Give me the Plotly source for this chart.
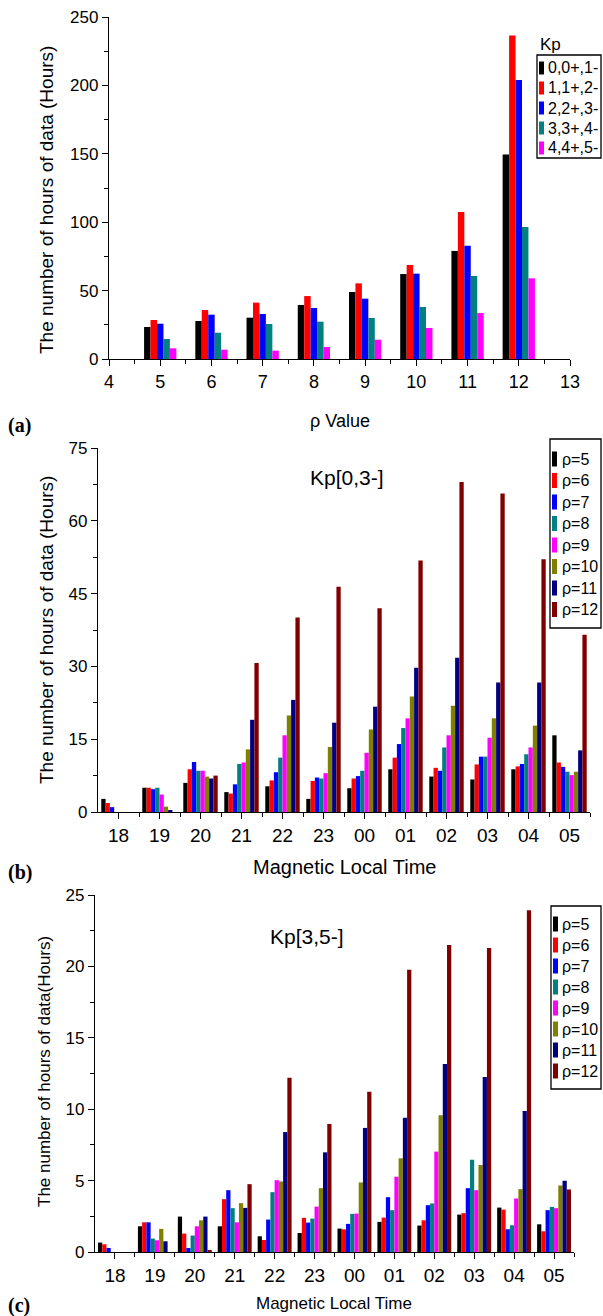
import plotly.graph_objects as go

W, H = 603, 1316

# ---------------- data ----------------
RHO = [5, 6, 7, 8, 9, 10, 11, 12]
KP_NAMES = ["0,0+,1-", "1,1+,2-", "2,2+,3-", "3,3+,4-", "4,4+,5-"]
KP_COLORS = ["#000000", "#FF0000", "#0000FF", "#008080", "#FF00FF"]
A_KP0 = [23.4, 27.8, 30.2, 39.5, 49.0, 62.1, 79.0, 149.4]
A_KP1 = [28.5, 35.8, 41.2, 46.0, 55.3, 68.7, 107.5, 236.4]
A_KP2 = [25.8, 32.4, 32.9, 37.3, 44.1, 62.4, 82.8, 204.0]
A_KP3 = [14.6, 19.2, 25.6, 27.3, 30.0, 38.0, 60.7, 96.5]
A_KP4 = [7.8, 6.8, 6.1, 8.8, 14.1, 22.7, 33.6, 59.0]

MLT = ["18", "19", "20", "21", "22", "23", "00", "01", "02", "03", "04", "05"]
RHO_NAMES = ["ρ=5", "ρ=6", "ρ=7", "ρ=8", "ρ=9", "ρ=10", "ρ=11", "ρ=12"]
RHO_COLORS = ["#000000", "#FF0000", "#0000FF", "#008080", "#FF00FF",
              "#808000", "#000080", "#800000"]

B_R5 = [2.7, 5.0, 6.0, 4.1, 5.3, 2.7, 4.9, 8.8, 7.3, 6.7, 8.8, 15.8]
B_R6 = [1.85, 5.0, 8.8, 3.8, 6.5, 6.4, 6.9, 11.2, 9.1, 9.8, 9.4, 10.2]
B_R7 = [1.0, 4.7, 10.3, 5.7, 8.2, 7.1, 7.4, 14.0, 8.5, 11.4, 9.9, 9.3]
B_R8 = [0, 5.0, 8.5, 9.9, 11.2, 6.9, 8.5, 17.3, 13.3, 11.4, 11.9, 8.3]
B_R9 = [0, 3.6, 8.5, 10.2, 15.8, 8.0, 12.2, 19.3, 15.8, 15.3, 13.3, 7.6]
B_R10 = [0, 1.1, 7.3, 12.9, 19.9, 13.4, 17.0, 23.8, 21.9, 19.3, 17.8, 8.3]
B_R11 = [0, 0.3, 6.9, 19.0, 23.1, 18.4, 21.7, 29.7, 31.8, 26.7, 26.7, 12.7]
B_R12 = [0, 0, 7.5, 30.7, 40.1, 46.4, 42.0, 51.8, 68.0, 65.6, 52.1, 36.5]

C_R5 = [0.66, 1.8, 2.48, 1.8, 1.1, 1.33, 1.64, 2.11, 1.85, 2.62, 3.11, 1.94]
C_R6 = [0.54, 2.08, 1.29, 3.7, 0.84, 2.39, 1.59, 2.41, 2.22, 2.72, 2.97, 1.45]
C_R7 = [0.28, 2.08, 0.28, 4.33, 2.27, 2.06, 1.97, 3.84, 3.28, 4.47, 1.59, 2.93]
C_R8 = [0, 0.94, 1.15, 3.07, 4.19, 2.34, 2.67, 2.93, 3.4, 6.46, 1.87, 3.16]
C_R9 = [0, 0.82, 1.8, 2.08, 5.03, 3.18, 2.69, 5.27, 7.03, 4.33, 3.75, 3.07]
C_R10 = [0, 1.62, 2.22, 3.42, 4.94, 4.47, 4.87, 6.56, 9.58, 6.09, 4.4, 4.66]
C_R11 = [0, 0.75, 2.48, 3.09, 8.4, 6.98, 8.69, 9.41, 13.16, 12.25, 9.88, 4.99]
C_R12 = [0, 0, 0.1, 4.75, 12.2, 8.97, 11.22, 19.77, 21.5, 21.29, 23.93, 4.38]

A_SERIES = [A_KP0, A_KP1, A_KP2, A_KP3, A_KP4]
B_SERIES = [B_R5, B_R6, B_R7, B_R8, B_R9, B_R10, B_R11, B_R12]
C_SERIES = [C_R5, C_R6, C_R7, C_R8, C_R9, C_R10, C_R11, C_R12]

# ---------------- helpers ----------------
def fx(px):
    return px / W

def fy(py):
    return 1 - py / H

FONT = "Arial, Liberation Sans, sans-serif"
SERIF = "Times New Roman, Liberation Serif, serif"

fig = go.Figure()

def add_group(series, names, colors, xvals, xa, ya, group_w):
    n = len(series)
    bw = group_w / n
    for i, (vals, nm, col) in enumerate(zip(series, names, colors)):
        fig.add_trace(go.Bar(
            x=xvals, y=vals, name=nm, xaxis=xa, yaxis=ya,
            marker=dict(color=col, line=dict(width=0)),
            width=bw, offset=-group_w / 2 + i * bw,
            showlegend=False,
        ))

mlt_idx = list(range(len(MLT)))
add_group(A_SERIES, KP_NAMES, KP_COLORS, RHO, "x", "y", 0.63)
add_group(B_SERIES, RHO_NAMES, RHO_COLORS, mlt_idx, "x2", "y2", 0.84)
add_group(C_SERIES, RHO_NAMES, RHO_COLORS, mlt_idx, "x3", "y3", 0.85)

axis_common = dict(showline=True, linecolor="black", linewidth=1.3,
                   ticks="outside", ticklen=6, tickwidth=1.3, tickcolor="black",
                   showgrid=False, zeroline=False,
                   tickfont=dict(family=FONT, size=17, color="black"))

def minor(**kw):
    return dict(ticks="outside", ticklen=4, tickwidth=1.3, tickcolor="black", **kw)

fig.update_layout(
    xaxis=dict(**{**axis_common, "tickfont": dict(family=FONT, size=18, color="black")},
               domain=[fx(109), fx(570)], anchor="y", range=[4, 13],
               tickmode="linear", tick0=4, dtick=1,
               minor=minor(dtick=0.5, tick0=4)),
    yaxis=dict(**axis_common, domain=[fy(359), fy(17)], anchor="x", range=[0, 250],
               tickmode="linear", tick0=0, dtick=50, minor=minor(dtick=25)),
    xaxis2=dict(**{**axis_common, "tickfont": dict(family=FONT, size=19, color="black")},
                domain=[fx(98), fx(590)], anchor="y2", range=[-0.5, len(MLT) - 0.5],
                tickmode="array", tickvals=mlt_idx, ticktext=MLT,
                minor=minor(tickmode="array", tickvals=[i + 0.5 for i in mlt_idx])),
    yaxis2=dict(**axis_common, domain=[fy(812), fy(448)], anchor="x2", range=[0, 75],
                tickmode="linear", tick0=0, dtick=15, minor=minor(dtick=7.5)),
    xaxis3=dict(**{**axis_common, "tickfont": dict(family=FONT, size=19, color="black")},
                domain=[fx(95), fx(574)], anchor="y3", range=[-0.5, len(MLT) - 0.5],
                tickmode="array", tickvals=mlt_idx, ticktext=MLT,
                minor=minor(tickmode="array", tickvals=[i + 0.5 for i in mlt_idx])),
    yaxis3=dict(**axis_common, domain=[fy(1252), fy(895)], anchor="x3", range=[0, 25],
                tickmode="linear", tick0=0, dtick=5, minor=minor(dtick=2.5)),
)

annotations = []
shapes = []

def text(px, py, s, size, xanchor="center", angle=0, family=FONT, bold=False):
    if bold:
        s = "<b>" + s + "</b>"
    annotations.append(dict(x=fx(px), y=fy(py), xref="paper", yref="paper",
                            text=s, showarrow=False, xanchor=xanchor, yanchor="middle",
                            textangle=angle, font=dict(family=family, size=size, color="black")))

# axis titles
text(47, 200, "The number of hours of data (Hours)", 19, angle=-90)
text(340, 421, "ρ Value", 18)
text(46, 630, "The number of hours of data (Hours)", 19, angle=-90)
text(344, 867, "Magnetic Local Time", 20)
text(44, 1072, "The number of hours of data(Hours)", 17, angle=-90)
text(334, 1303, "Magnetic Local Time", 17)

# panel labels
text(6, 425, "(a)", 20, xanchor="left", family=SERIF, bold=True)
text(6, 872, "(b)", 20, xanchor="left", family=SERIF, bold=True)
text(6, 1305, "(c)", 20, xanchor="left", family=SERIF, bold=True)

# inner titles
text(347, 477, "Kp[0,3-]", 21)
text(307, 937, "Kp[3,5-]", 21)

# custom legends
def legend(names, colors, box, first_y, step, sw_x, txt_x, sw_h, size):
    x0, y0, x1, y1 = box
    shapes.append(dict(type="rect", xref="paper", yref="paper",
                       x0=fx(x0), x1=fx(x1), y0=fy(y1), y1=fy(y0),
                       line=dict(color="black", width=1.3), fillcolor="white"))
    for i, (nm, col) in enumerate(zip(names, colors)):
        cy = first_y + i * step
        shapes.append(dict(type="rect", xref="paper", yref="paper",
                           x0=fx(sw_x), x1=fx(sw_x + 5), y0=fy(cy + sw_h / 2), y1=fy(cy - sw_h / 2),
                           line=dict(width=0), fillcolor=col))
        text(txt_x, cy, nm, size, xanchor="left")

text(538, 44, "Kp", 17, xanchor="left")
legend(KP_NAMES, KP_COLORS, (537, 55, 601, 158), 68, 20, 539, 546, 13, 16)
legend(RHO_NAMES, RHO_COLORS, (550, 439, 601, 628), 459, 21.5, 552, 560, 15, 16)
legend(RHO_NAMES, RHO_COLORS, (551, 906, 601, 1089), 924, 21, 553, 560, 15, 16)

fig.update_layout(
    width=W, height=H,
    margin=dict(l=0, r=0, t=0, b=0, autoexpand=False),
    paper_bgcolor="white", plot_bgcolor="white",
    barmode="overlay",
    showlegend=False,
    annotations=annotations,
    shapes=shapes,
    font=dict(family=FONT, color="black"),
)

fig.write_html("out.html",
               config={"displayModeBar": False},
               post_script="document.body.style.margin='0px';document.body.style.overflow='hidden';")
